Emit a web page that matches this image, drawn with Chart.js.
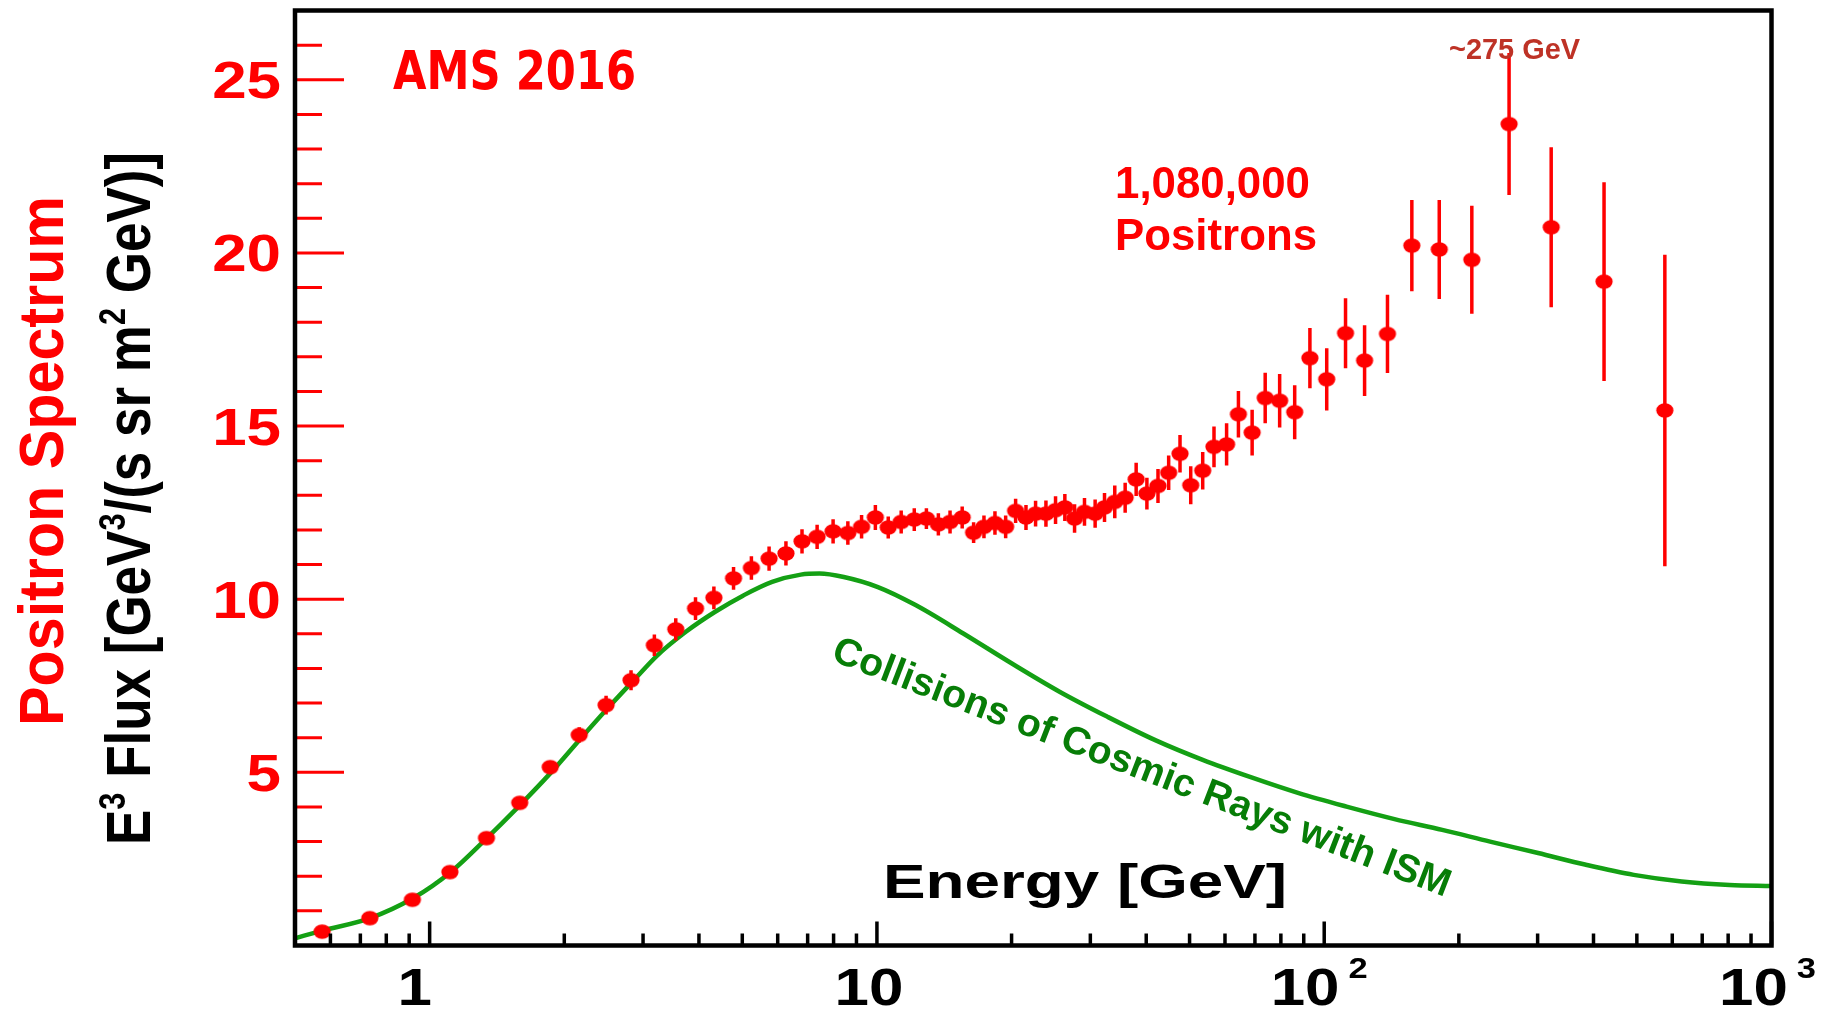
<!DOCTYPE html>
<html>
<head>
<meta charset="utf-8">
<title>AMS 2016 positron spectrum</title>
<script src="https://cdn.jsdelivr.net/npm/chart.js@4.4.1/dist/chart.umd.min.js"></script>
<style>
  html, body { margin: 0; padding: 0; background: #fff; overflow: hidden; }
  canvas { display: block; }
</style>
</head>
<body>
<canvas id="spectrum" width="1824" height="1009"></canvas>
<script>
// E^3-weighted positron flux, AMS 2016, with the secondary production curve

const energy = [
  0.575, 0.735, 0.915, 1.11, 1.34, 1.59, 1.86, 2.16, 2.48, 2.82,
  3.18, 3.55, 3.93, 4.32, 4.78, 5.24, 5.74, 6.26, 6.80, 7.35,
  7.98, 8.61, 9.24, 9.92, 10.6, 11.33, 12.12, 12.90, 13.72, 14.57,
  15.51, 16.45, 17.35, 18.36, 19.40, 20.42, 21.54, 22.63, 23.87, 25.08,
  26.31, 27.66, 29.11, 30.75, 32.27, 34.02, 35.89, 37.98, 40.14, 42.5,
  44.9, 47.6, 50.3, 53.5, 56.7, 60.5, 64.3, 69.0, 73.8, 79.5,
  85.9, 92.9, 101.3, 111.6, 123.1, 138.5, 157, 180.8, 213.8, 259,
  321.7, 422.3, 577.5
];
const flux = [
  0.40, 0.79, 1.32, 2.12, 3.10, 4.12, 5.15, 6.08, 6.94, 7.66,
  8.67, 9.13, 9.73, 10.04, 10.60, 10.90, 11.17, 11.32, 11.67, 11.80,
  11.96, 11.91, 12.09, 12.36, 12.07, 12.23, 12.30, 12.33, 12.16, 12.23,
  12.36, 11.92, 12.09, 12.20, 12.09, 12.55, 12.36, 12.47, 12.47, 12.57,
  12.65, 12.33, 12.52, 12.47, 12.65, 12.81, 12.93, 13.46, 13.05, 13.27,
  13.65, 14.20, 13.29, 13.71, 14.40, 14.47, 15.34, 14.81, 15.81, 15.73,
  15.40, 16.96, 16.35, 17.68, 16.89, 17.66, 20.21, 20.10, 19.80, 23.72,
  20.74, 19.17, 15.45
];
const fluxErr = [
  0.05, 0.05, 0.06, 0.07, 0.09, 0.12, 0.18, 0.22, 0.27, 0.29,
  0.31, 0.32, 0.33, 0.33, 0.33, 0.34, 0.35, 0.35, 0.35, 0.35,
  0.35, 0.34, 0.34, 0.36, 0.32, 0.33, 0.33, 0.30, 0.32, 0.33,
  0.32, 0.30, 0.33, 0.34, 0.33, 0.35, 0.36, 0.37, 0.38, 0.40,
  0.39, 0.41, 0.40, 0.41, 0.42, 0.47, 0.43, 0.48, 0.46, 0.49,
  0.50, 0.54, 0.55, 0.54, 0.59, 0.61, 0.67, 0.66, 0.73, 0.77,
  0.78, 0.87, 0.90, 1.01, 1.02, 1.13, 1.32, 1.43, 1.56, 2.05,
  2.31, 2.87, 4.50
];

// cosmic rays colliding with the interstellar medium
const modelEnergy = [
  0.5, 0.576, 0.736, 0.919, 1.119, 1.33, 1.58, 1.86, 2.16, 2.50,
  2.86, 3.23, 3.74, 4.34, 5.03, 5.83, 6.76, 7.44, 8.43, 10.05,
  12.2, 15.6, 19.99, 25.6, 32.7, 41.9, 53.5, 68.5, 87.7, 112.2,
  143.6, 183.6, 234.9, 300.7, 384.8, 492, 630, 806, 1000
];
const modelFlux = [
  0.21, 0.43, 0.79, 1.37, 2.14, 3.05, 4.01, 4.97, 5.93, 6.85,
  7.66, 8.38, 9.06, 9.63, 10.11, 10.50, 10.71, 10.74, 10.64, 10.35,
  9.83, 9.01, 8.15, 7.33, 6.61, 5.93, 5.36, 4.86, 4.40, 4.01,
  3.65, 3.34, 3.00, 2.67, 2.33, 2.04, 1.85, 1.75, 1.72
];

const xMajorTicks = [1, 10, 100, 1000];
const xTickLabels = ['1', '10', '10^2', '10^3'];
const yMajorTicks = [5, 10, 15, 20, 25];
const yTickLabels = ['5', '10', '15', '20', '25'];

const X_MIN = 0.5, X_MAX = 1000, Y_MIN = 0, Y_MAX = 27;

const FONT = "'Liberation Sans', Arial, Helvetica, sans-serif";
const NARROW = "'Liberation Sans Narrow', 'DejaVu Sans Condensed', 'Liberation Sans', sans-serif";
const RED = '#ff0000';
const LINE_GREEN = '#14a014';
const TEXT_GREEN = '#077d07';

// minor ticks: 2..9 of every decade, 1..26 on the flux axis
const xMinorTicks = [];
[0.1, 1, 10, 100].forEach(d => {
  for (let k = 2; k <= 9; k++) {
    const v = k * d;
    if (v > X_MIN && v < X_MAX) xMinorTicks.push(v);
  }
});
const yMinorTicks = [];
for (let v = 1; v < Y_MAX; v++) if (v % 5) yMinorTicks.push(v);

function ellipseDot(rx, ry, color) {
  const c = document.createElement('canvas');
  c.width = Math.ceil(rx * 2) + 2;
  c.height = Math.ceil(ry * 2) + 2;
  const g = c.getContext('2d');
  g.fillStyle = color;
  g.beginPath();
  g.ellipse(c.width / 2, c.height / 2, rx, ry, 0, 0, Math.PI * 2);
  g.fill();
  return c;
}

function fitText(ctx, str, x, y, o) {
  ctx.save();
  ctx.font = `${o.weight || 'bold'} ${o.size}px ${o.family || FONT}`;
  const w = ctx.measureText(str).width;
  ctx.translate(x, y);
  if (o.angle) ctx.rotate(o.angle);
  ctx.scale(o.width ? o.width / w : (o.sx || 1), o.sy || 1);
  ctx.fillStyle = o.color;
  ctx.textAlign = 'left';
  ctx.textBaseline = 'alphabetic';
  const x0 = o.align === 'right' ? -w : o.align === 'center' ? -w / 2 : 0;
  ctx.fillText(str, x0, 0);
  ctx.restore();
}

// parts: [text, isSuperscript]
function richRun(ctx, parts, size, x0, draw) {
  let x = x0;
  parts.forEach(([t, sup]) => {
    const s = sup ? size * 0.58 : size;
    ctx.font = `bold ${s}px ${FONT}`;
    if (draw) ctx.fillText(t, x, sup ? -size * 0.4 : 0);
    x += ctx.measureText(t).width;
  });
  return x - x0;
}

function verticalTitle(ctx, parts, baseX, midY, size, length, cap, color) {
  ctx.save();
  const w = richRun(ctx, parts, size, 0, false);
  ctx.translate(baseX, midY);
  ctx.rotate(-Math.PI / 2);
  ctx.scale(length / w, cap / (0.716 * size));
  ctx.fillStyle = color;
  ctx.textBaseline = 'alphabetic';
  richRun(ctx, parts, size, -w / 2, true);
  ctx.restore();
}

function drawErrorBars(chart) {
  const meta = chart.getDatasetMeta(1);
  const ys = chart.scales.y;
  const ctx = chart.ctx;
  ctx.save();
  ctx.strokeStyle = RED;
  ctx.lineWidth = 3.5;
  ctx.beginPath();
  meta.data.forEach((pt, i) => {
    ctx.moveTo(pt.x, ys.getPixelForValue(flux[i] + fluxErr[i]));
    ctx.lineTo(pt.x, ys.getPixelForValue(flux[i] - fluxErr[i]));
  });
  ctx.stroke();
  ctx.restore();
}

function drawAxes(chart) {
  const { ctx, chartArea: a } = chart;
  const xs = chart.scales.x, ys = chart.scales.y;
  ctx.save();
  ctx.lineCap = 'butt';

  // flux axis ticks, red, pointing into the frame
  ctx.strokeStyle = RED;
  ctx.lineWidth = 3;
  ctx.beginPath();
  yMinorTicks.forEach(v => {
    const p = ys.getPixelForValue(v);
    ctx.moveTo(a.left, p); ctx.lineTo(a.left + 27, p);
  });
  yMajorTicks.forEach(v => {
    const p = ys.getPixelForValue(v);
    ctx.moveTo(a.left, p); ctx.lineTo(a.left + 49, p);
  });
  ctx.stroke();

  // energy axis ticks
  ctx.strokeStyle = '#000';
  ctx.lineWidth = 3.5;
  ctx.beginPath();
  xMinorTicks.forEach(v => {
    const p = xs.getPixelForValue(v);
    ctx.moveTo(p, a.bottom); ctx.lineTo(p, a.bottom - 12);
  });
  xMajorTicks.forEach(v => {
    const p = xs.getPixelForValue(v);
    ctx.moveTo(p, a.bottom); ctx.lineTo(p, a.bottom - 24);
  });
  ctx.stroke();

  // frame
  ctx.lineWidth = 4.5;
  ctx.strokeRect(a.left, a.top, a.right - a.left, a.bottom - a.top);
  ctx.restore();

  yMajorTicks.forEach((v, i) => {
    fitText(ctx, yTickLabels[i], 281, ys.getPixelForValue(v) + 18.5,
      { size: 52, color: RED, align: 'right', sx: 1.19 });
  });

  const nudge = [-15, -8, -5, -4];
  xMajorTicks.forEach((v, i) => {
    const [base, exp] = xTickLabels[i].split('^');
    ctx.save();
    ctx.font = `bold 52px ${FONT}`;
    const wb = ctx.measureText(base).width * 1.19;
    ctx.font = `bold 29px ${FONT}`;
    const we = exp ? ctx.measureText(exp).width * 1.19 + 9 : 0;
    ctx.restore();
    const left = xs.getPixelForValue(v) + nudge[i] - (wb + we) / 2;
    fitText(ctx, base, left, 1005, { size: 52, color: '#000', sx: 1.19 });
    if (exp) fitText(ctx, exp, left + wb + 9, 978, { size: 29, color: '#000', sx: 1.19 });
  });
}

function drawNotes(chart) {
  const ctx = chart.ctx;
  fitText(ctx, 'AMS 2016', 393, 89, { size: 54, weight: 'bold', family: NARROW, color: RED, width: 243 });
  fitText(ctx, '1,080,000', 1115, 198, { size: 44, color: RED, width: 195 });
  fitText(ctx, 'Positrons', 1115, 250, { size: 44, color: RED, width: 202 });
  fitText(ctx, '~275 GeV', 1449, 59, { size: 30, color: '#be3226', width: 131 });
  fitText(ctx, 'Energy [GeV]', 883, 898, { size: 49, color: '#000', width: 404 });
  fitText(ctx, 'Collisions of Cosmic Rays with ISM', 830, 660,
    { size: 39, color: TEXT_GREEN, width: 659, angle: 21.07 * Math.PI / 180 });

  verticalTitle(ctx, [['Positron Spectrum']], 62.5, 461, 59, 530, 44.5, RED);
  verticalTitle(ctx,
    [['E'], ['3', 1], [' Flux [GeV'], ['3', 1], ['/(s sr m'], ['2', 1], [' GeV)]']],
    150, 498.5, 53, 693, 45, '#000');
}

const rootStyle = {
  id: 'rootStyle',
  beforeDatasetDraw(chart, args) {
    if (args.index === 1) drawErrorBars(chart);
  },
  afterDraw(chart) {
    drawAxes(chart);
    drawNotes(chart);
  }
};

new Chart(document.getElementById('spectrum'), {
  type: 'scatter',
  data: {
    datasets: [
      {
        type: 'line',
        label: 'Collisions of Cosmic Rays with ISM',
        data: modelEnergy.map((e, i) => ({ x: e, y: modelFlux[i] })),
        borderColor: LINE_GREEN,
        borderWidth: 4.5,
        pointRadius: 0,
        fill: false,
        cubicInterpolationMode: 'monotone',
        order: 1
      },
      {
        label: 'Positrons',
        data: energy.map((e, i) => ({ x: e, y: flux[i] })),
        pointStyle: ellipseDot(8.6, 7.3, RED),
        pointRadius: 8,
        backgroundColor: RED,
        borderWidth: 0,
        order: 0
      }
    ]
  },
  options: {
    responsive: false,
    animation: false,
    events: [],
    layout: { padding: { left: 295, top: 10.5, right: 52.5, bottom: 63.5 } },
    plugins: { legend: { display: false }, tooltip: { enabled: false } },
    scales: {
      x: { type: 'logarithmic', min: X_MIN, max: X_MAX, display: false },
      y: { type: 'linear', min: Y_MIN, max: Y_MAX, display: false }
    }
  },
  plugins: [rootStyle]
});
</script>
</body>
</html>
